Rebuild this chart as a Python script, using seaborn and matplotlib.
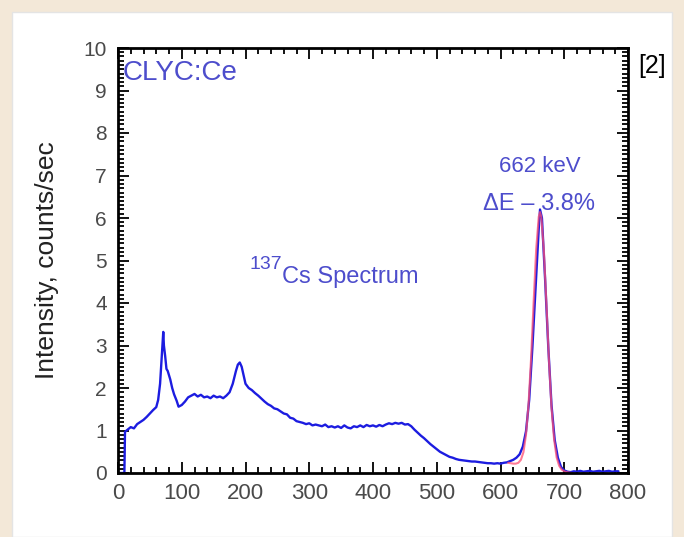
import numpy as np
import pandas as pd
import matplotlib.pyplot as plt
import seaborn as sns
from matplotlib.patches import Rectangle
from matplotlib.ticker import MultipleLocator

# 137Cs spectrum (energy keV, counts/sec)
energy = [0, 5, 10, 11, 15, 20, 25, 30, 35, 40, 45, 50, 55, 60, 63, 66, 68, 70, 71, 72,
          74, 76, 78, 80, 82, 85, 88, 92, 95, 100, 105, 110, 115, 120, 125, 130, 135, 140,
          145, 150, 155, 160, 165, 170, 175, 180, 185, 188, 191, 194, 197, 200, 205, 210,
          215, 220, 225, 230, 235, 240, 245, 250, 255, 260, 265, 270, 275, 280, 285, 290,
          295, 300, 305, 310, 315, 320, 325, 330, 335, 340, 345, 350, 355, 360, 365, 370,
          375, 380, 385, 390, 395, 400, 405, 410, 415, 420, 425, 430, 435, 440, 445, 450,
          455, 460, 465, 470, 475, 480, 485, 490, 495, 500, 505, 510, 515, 520, 525, 530,
          535, 540, 545, 550, 555, 560, 565, 570, 575, 580, 585, 590, 595, 600, 605, 610,
          615, 620, 625, 630, 635, 640, 645, 650, 655, 660, 662, 665, 670, 675, 680, 685,
          690, 695, 700, 705, 710, 715, 720, 725, 730, 735, 740, 745, 750, 755, 760, 765,
          770, 775, 780, 785]
counts = [0.0, 0.0, 0.0, 0.97, 1.02, 1.08, 1.05, 1.15, 1.20, 1.25, 1.32, 1.40, 1.48, 1.55,
          1.72, 2.10, 2.60, 3.10, 3.32, 3.00, 2.75, 2.45, 2.40, 2.30, 2.20, 2.00, 1.85, 1.70,
          1.56, 1.60, 1.68, 1.78, 1.82, 1.86, 1.80, 1.84, 1.78, 1.80, 1.76, 1.82, 1.78, 1.80,
          1.76, 1.82, 1.90, 2.10, 2.40, 2.55, 2.60, 2.50, 2.30, 2.10, 2.00, 1.95, 1.88, 1.82,
          1.75, 1.68, 1.62, 1.58, 1.52, 1.50, 1.45, 1.40, 1.38, 1.30, 1.28, 1.22, 1.20, 1.18,
          1.15, 1.17, 1.12, 1.14, 1.12, 1.10, 1.14, 1.08, 1.10, 1.07, 1.10, 1.06, 1.12, 1.07,
          1.05, 1.10, 1.08, 1.12, 1.08, 1.13, 1.10, 1.12, 1.09, 1.13, 1.10, 1.14, 1.17, 1.15,
          1.18, 1.16, 1.18, 1.14, 1.15, 1.10, 1.02, 0.95, 0.88, 0.82, 0.75, 0.68, 0.62, 0.56,
          0.50, 0.46, 0.42, 0.38, 0.36, 0.33, 0.31, 0.30, 0.29, 0.28, 0.27, 0.27, 0.26, 0.25,
          0.24, 0.23, 0.23, 0.22, 0.23, 0.22, 0.24, 0.25, 0.28, 0.31, 0.36, 0.44, 0.62, 0.98,
          1.72, 2.95, 4.35, 5.75, 6.20, 6.00, 4.55, 2.95, 1.60, 0.78, 0.36, 0.14, 0.06, 0.03,
          0.02, 0.04, 0.03, 0.05, 0.03, 0.04, 0.05, 0.03, 0.04, 0.05, 0.03, 0.04, 0.05, 0.03,
          0.04, 0.04]

# Gaussian fit of the 662 keV photopeak (red curve)
fit_energy = [612, 616, 620, 624, 628, 632, 636, 640, 644, 648, 652, 656, 660, 662, 664,
              668, 672, 676, 680, 684, 688, 692, 696, 700, 704, 708, 712]
fit_counts = [0.24, 0.23, 0.22, 0.22, 0.24, 0.31, 0.49, 0.90, 1.62, 2.71, 4.03, 5.27, 6.03,
              6.14, 6.02, 5.24, 3.99, 2.65, 1.54, 0.80, 0.37, 0.17, 0.08, 0.04, 0.02, 0.01, 0.0]

spec = pd.DataFrame({'Energy': energy, 'Intensity': counts})
fit = pd.DataFrame({'Energy': fit_energy, 'Intensity': fit_counts})

sns.set_style('ticks')
plt.rcParams['font.family'] = ['Liberation Sans', 'DejaVu Sans']

fig = plt.figure(figsize=(6.84, 5.37), dpi=100)
fig.patch.set_facecolor('#f3e8d8')
fig.patches.append(Rectangle((12 / 684, 0), 660 / 684, 1 - 12 / 537,
                             transform=fig.transFigure, facecolor='white',
                             edgecolor='#e4e4e4', lw=1, zorder=-10))
ax = fig.add_axes([118 / 684, 1 - 473 / 537, 510 / 684, 425 / 537])
ax.set_facecolor('none')

sns.lineplot(data=spec, x='Energy', y='Intensity', ax=ax, color='#1c1ce0', lw=1.7)
sns.lineplot(data=fit, x='Energy', y='Intensity', ax=ax, color='#ff4f72', lw=1.5, alpha=0.75)

ax.set_xlim(0, 800)
ax.set_ylim(0, 10)
ax.xaxis.set_major_locator(MultipleLocator(100))
ax.xaxis.set_minor_locator(MultipleLocator(20))
ax.yaxis.set_major_locator(MultipleLocator(1))
ax.yaxis.set_minor_locator(MultipleLocator(0.1))
ax.tick_params(which='both', direction='in', top=True, right=True, colors='black', width=1.3)
ax.tick_params(which='major', length=8, labelcolor='#4a4a4a')
ax.tick_params(which='minor', length=4)
ax.tick_params(axis='x', labelsize=16, pad=7)
ax.tick_params(axis='y', labelsize=15, pad=8)
for s in ax.spines.values():
    s.set_linewidth(2)
    s.set_color('black')

ax.set_xlabel('')
ax.set_ylabel('Intensity, counts/sec', fontsize=19, color='#222222', labelpad=18)

txt_col = '#4d4dcc'
ax.text(8, 9.4, 'CLYC:Ce', color=txt_col, fontsize=20, ha='left', va='center')
ax.text(662, 7.2, '662 keV', color=txt_col, fontsize=16, ha='center', va='center')
ax.text(661, 6.33, 'ΔE – 3.8%', color=txt_col, fontsize=17, ha='center', va='center')
ax.text(207, 4.9, '137', color=txt_col, fontsize=14, ha='left', va='center')
ax.text(257, 4.62, 'Cs Spectrum', color=txt_col, fontsize=17, ha='left', va='center')

fig.text(652 / 684, 1 - 66 / 537, '[2]', fontsize=18, color='black', ha='center', va='center')

fig.savefig('out.png', dpi=100)
